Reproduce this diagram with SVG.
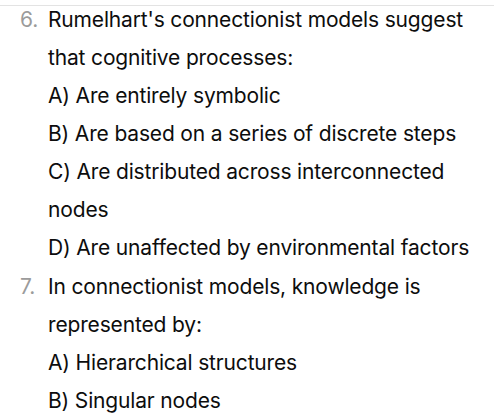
<svg xmlns="http://www.w3.org/2000/svg" width="494" height="419" viewBox="0 0 494 419">
<style>
.t{font-family:Inter,"Liberation Sans",sans-serif;font-size:21px;letter-spacing:-0.16px;fill:#0d0d0d}
.n{font-family:Inter,"Liberation Sans",sans-serif;font-size:21px;fill:#9b9b9b}
</style>
<rect width="494" height="419" fill="#ffffff"/>
<line x1="0" y1="5.5" x2="494" y2="5.5" stroke="#e3e3e3" stroke-width="1"/>
<g id="q6">
<text class="n" x="20" y="27">6.</text>
<text class="t" x="48" y="27">Rumelhart's connectionist models suggest</text>
<text class="t" x="48" y="65">that cognitive processes:</text>
<text class="t" x="48" y="103">A) Are entirely symbolic</text>
<text class="t" x="48" y="141">B) Are based on a series of discrete steps</text>
<text class="t" x="48" y="179">C) Are distributed across interconnected</text>
<text class="t" x="48" y="217">nodes</text>
<text class="t" x="48" y="255">D) Are unaffected by environmental factors</text>
</g>
<g id="q7">
<text class="n" x="20" y="294">7.</text>
<text class="t" x="48" y="294">In connectionist models, knowledge is</text>
<text class="t" x="48" y="332">represented by:</text>
<text class="t" x="48" y="370">A) Hierarchical structures</text>
<text class="t" x="48" y="408">B) Singular nodes</text>
</g>
</svg>
